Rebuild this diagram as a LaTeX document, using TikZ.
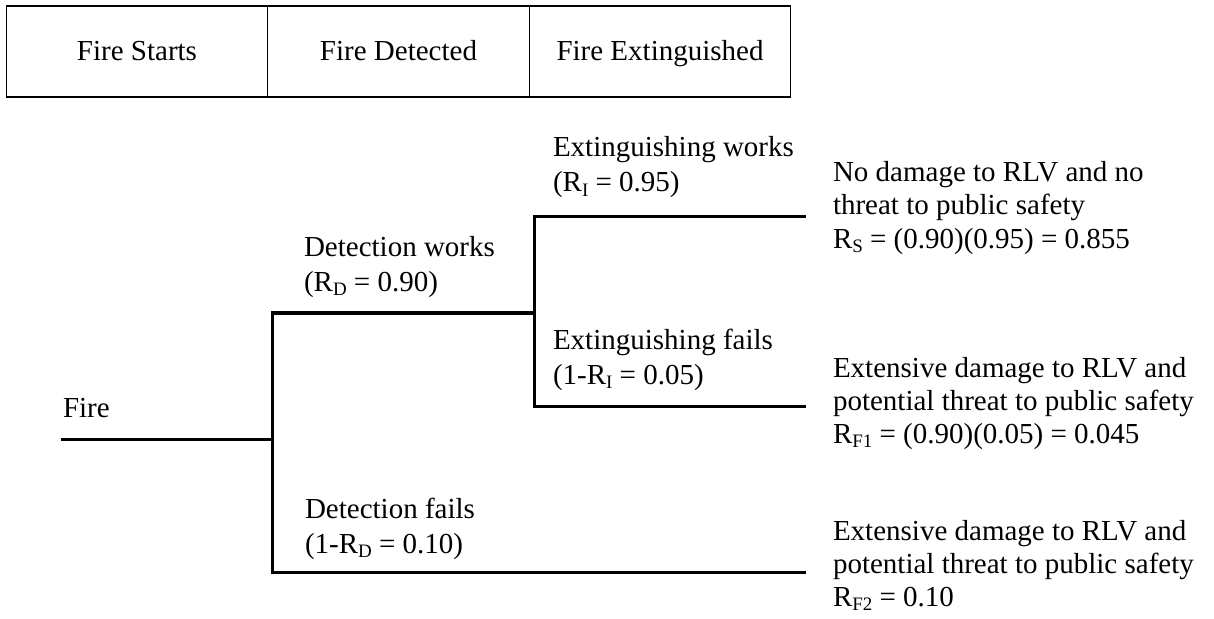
\documentclass[tikz,border=0pt]{standalone}
\usepackage{fontspec}
\setmainfont{Liberation Serif}
% lowered, reduced index letter after R
\newcommand\lowidx[1]{\raisebox{-0.14em}{\fontsize{19bp}{19bp}\selectfont #1}}
% fixed first-line height so that label tops sit a known distance above the baseline
\newcommand\topstrut{\rule{0pt}{22bp}}
\begin{document}
\begin{tikzpicture}[x=1bp,y=-1bp,
  every node/.style={inner sep=0pt, outer sep=0pt},
  headcell/.style={draw=black, line width=1.3bp, minimum width=261.5bp,
    minimum height=91bp, text height=20bp, text depth=1bp,
    font=\fontsize{29bp}{33bp}\selectfont},
  branchlbl/.style={anchor=north west, align=left,
    font=\fontsize{29bp}{35bp}\selectfont},
  outcome/.style={anchor=north west, align=left,
    font=\fontsize{29bp}{33bp}\selectfont},
  treeline/.style={line width=3bp, line join=miter}]
\useasboundingbox (0,0) rectangle (1214,619);

% header row
\node[headcell] (hstart) at (137,51.5) {Fire Starts};
\node[headcell] (hdetect) at (398.5,51.5) {Fire Detected};
\node[headcell] (hext) at (660,51.5) {Fire Extinguished};

% event tree branch points
\coordinate (root) at (61,439);
\coordinate (split) at (272,439);
\coordinate (dtop) at (272,313);
\coordinate (dbot) at (272,572);
\coordinate (etop) at (534,217);
\coordinate (emid) at (534,313);
\coordinate (ebot) at (534,406);
\coordinate (out1) at (806,217);
\coordinate (out2) at (806,406);
\coordinate (out3) at (806,572);

\draw[treeline] (root) -- (split);
\draw[treeline] (emid) -- (dtop) -- (dbot) -- (out3);
\draw[treeline] (out1) -- (etop) -- (ebot) -- (out2);

% initiating event
\node[anchor=base west, font=\fontsize{29bp}{33bp}\selectfont] (fire) at (63,417) {Fire};

% branch labels
\node[branchlbl] (dworks) at (304,256-22) {\topstrut Detection works\\(R\lowidx{D} = 0.90)};
\node[branchlbl] (dfails) at (305,518-22) {\topstrut Detection fails\\(1-R\lowidx{D} = 0.10)};
\node[branchlbl] (eworks) at (553,157-22) {\topstrut Extinguishing works\\(R\lowidx{I} = 0.95)};
\node[branchlbl] (efails) at (553,349-22) {\topstrut Extinguishing fails\\(1-R\lowidx{I} = 0.05)};

% outcomes
\node[outcome] (res1) at (833,182-22) {\topstrut No damage to RLV and no\\threat to public safety\\R\lowidx{S} = (0.90)(0.95) = 0.855};
\node[outcome] (res2) at (833,377-22) {\topstrut Extensive damage to RLV and\\potential threat to public safety\\R\lowidx{F1} = (0.90)(0.05) = 0.045};
\node[outcome] (res3) at (833,540-22) {\topstrut Extensive damage to RLV and\\potential threat to public safety\\R\lowidx{F2} = 0.10};
\end{tikzpicture}
\end{document}
